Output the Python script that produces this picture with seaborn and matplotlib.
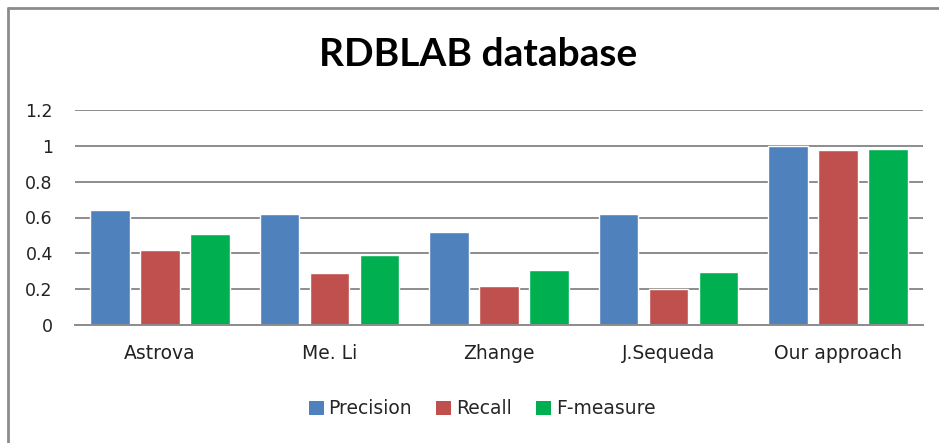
import matplotlib
matplotlib.use("Agg")
import matplotlib.pyplot as plt
import seaborn as sns
import pandas as pd
from matplotlib.lines import Line2D
from matplotlib.patches import Patch

categories = ["Astrova", "Me. Li", "Zhange", "J.Sequeda", "Our approach"]
series = ["Precision", "Recall", "F-measure"]
precision = [0.643, 0.62, 0.52, 0.62, 1.0]
recall = [0.42, 0.289, 0.217, 0.20, 0.976]
fmeasure = [0.51, 0.393, 0.307, 0.296, 0.985]
yticks = [0, 0.2, 0.4, 0.6, 0.8, 1, 1.2]
ytick_labels = ["0", "0.2", "0.4", "0.6", "0.8", "1", "1.2"]
colors = ["#4F81BD", "#C0504D", "#00B050"]

rows = []
for s, vals in zip(series, [precision, recall, fmeasure]):
    for c, v in zip(categories, vals):
        rows.append({"Category": c, "Series": s, "Value": v})
df = pd.DataFrame(rows)

sns.set_theme(style="white")
plt.rcParams['font.family'] = ['DejaVu Sans']

fig = plt.figure(figsize=(9.39, 4.43), dpi=100)
ax = fig.add_axes([75/939, 1-325/443, (923-75)/939, (325-110)/443])

sns.barplot(data=df, x="Category", y="Value", hue="Series", order=categories,
            hue_order=series, palette=colors, width=0.885, gap=0.21,
            saturation=1, ax=ax, legend=False, errorbar=None)

ax.set_ylim(0, 1.2)
ax.set_xlim(-0.5, len(categories) - 0.5)
ax.set_yticks(yticks)
ax.set_yticklabels(ytick_labels)
ax.yaxis.grid(True, color="#8c8c8c", linewidth=1.4)
ax.set_axisbelow(True)
for sp in ["top", "right", "left"]:
    ax.spines[sp].set_visible(False)
ax.spines["bottom"].set_color("#8c8c8c")
ax.spines["bottom"].set_linewidth(1.4)
ax.tick_params(axis="both", length=0, colors="#222222")
ax.tick_params(axis="y", pad=16, labelsize=12.5)
ax.tick_params(axis="x", pad=14, labelsize=13.5)
ax.set_xlabel("")
ax.set_ylabel("")

fig.text(478.5/939, 1-55/443, "RDBLAB database", ha="center", va="center",
         fontsize=28, fontweight="bold", color="black", family="Lato")

handles = [Patch(facecolor=c, edgecolor="none", label=s) for c, s in zip(colors, series)]
fig.legend(handles=handles, loc="center", bbox_to_anchor=(482/939, 1-409/443),
           ncol=3, frameon=False, fontsize=13.5, handlelength=0.8, handleheight=0.8,
           handletextpad=0.25, columnspacing=1.3)

# outer chart border (top and left visible)
fig.add_artist(Line2D([8/939, 1], [1-8/443, 1-8/443], color="#8c8c8c", linewidth=2))
fig.add_artist(Line2D([8/939, 8/939], [0, 1-8/443], color="#8c8c8c", linewidth=2))

fig.savefig("out.png", dpi=100, facecolor="white")
